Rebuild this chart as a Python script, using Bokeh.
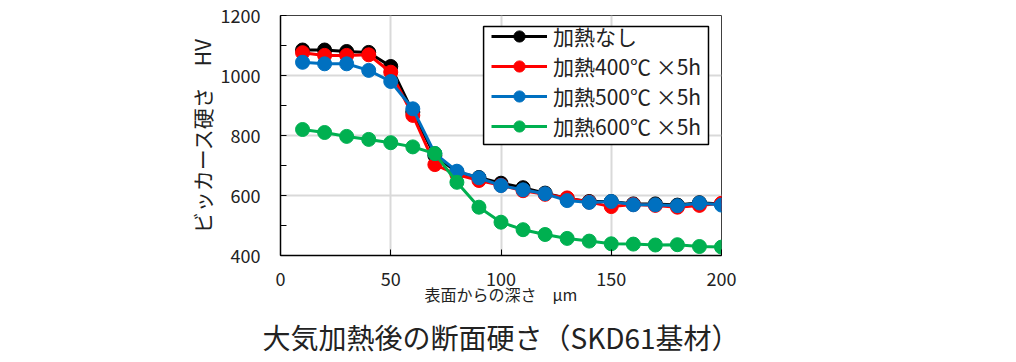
from bokeh.plotting import figure
from bokeh.models import FixedTicker, Range1d, Legend, LegendItem, Title, BoxAnnotation
from bokeh.embed import file_html
from bokeh.resources import INLINE

depth = [10, 20, 30, 40, 50, 60, 70, 80, 90, 100, 110, 120, 130, 140, 150, 160, 170, 180, 190, 200]
hv_none = [1085, 1085, 1080, 1077, 1030, 878, 733, 678, 660, 641, 626, 608, 590, 580, 580, 572, 572, 568, 576, 572]
hv_400 = [1076, 1067, 1067, 1069, 1011, 867, 703, 670, 650, 634, 616, 604, 592, 578, 563, 570, 567, 561, 567, 574]
hv_500 = [1044, 1039, 1039, 1017, 980, 889, 740, 681, 659, 633, 619, 606, 583, 577, 580, 569, 569, 566, 575, 568]
hv_600 = [820, 810, 797, 787, 776, 762, 740, 644, 561, 511, 486, 470, 457, 448, 439, 438, 435, 436, 430, 428]

series_names = ["加熱なし", "加熱400℃ ×5h", "加熱500℃ ×5h", "加熱600℃ ×5h"]
series_values = [hv_none, hv_400, hv_500, hv_600]
series_colors = ["#000000", "#FF0000", "#0070C0", "#00B050"]

x_ticks = [0, 50, 100, 150, 200]
y_ticks = [400, 600, 800, 1000, 1200]
y_minor = [500, 700, 900, 1100]

FONT = "Noto Sans CJK JP"

p = figure(width=1000, height=362, output_backend="svg", toolbar_location=None,
           x_range=Range1d(0, 200), y_range=Range1d(400, 1200),
           min_border_left=280, min_border_right=279, min_border_top=15,
           min_border_bottom=0)

p.background_fill_color = "white"
p.border_fill_color = "white"
p.outline_line_color = "#404040"
p.outline_line_width = 1

# axes
p.xaxis.ticker = FixedTicker(ticks=x_ticks)
p.yaxis.ticker = FixedTicker(ticks=y_ticks, minor_ticks=y_minor)
for ax in (p.xaxis[0], p.yaxis[0]):
    ax.axis_line_color = "#000000"
    ax.axis_line_width = 1.5
    ax.major_tick_in = 6
    ax.major_tick_out = 0
    ax.minor_tick_in = 6
    ax.minor_tick_out = 0
    ax.major_tick_line_color = "#000000"
    ax.minor_tick_line_color = "#000000"
    ax.major_label_text_font = FONT
    ax.major_label_text_font_size = "18px"
    ax.major_label_text_color = "#222222"
    ax.axis_label_text_font = FONT
    ax.axis_label_text_font_style = "normal"
    ax.axis_label_text_color = "#222222"

p.xaxis.major_label_standoff = 16
p.yaxis.major_label_standoff = 20
p.xaxis.axis_label = "表面からの深さ　μm"
p.xaxis.axis_label_text_font_size = "16px"
p.xaxis.axis_label_standoff = -7
p.yaxis.axis_label = "ビッカース硬さ　HV"
p.yaxis.axis_label_text_font_size = "21px"
p.yaxis.axis_label_standoff = 1

# grids
p.xgrid.ticker = FixedTicker(ticks=[50, 100, 150])
p.ygrid.ticker = FixedTicker(ticks=[600, 800, 1000])
p.grid.grid_line_color = "#D9D9D9"
p.grid.grid_line_width = 2

items = []
for name, vals, col in zip(series_names, series_values, series_colors):
    ln = p.line(depth, vals, line_color=col, line_width=3)
    sc = p.scatter(depth, vals, size=14, fill_color=col, line_color=col)
    items.append(LegendItem(label=name, renderers=[ln, sc]))

# legend frame (white box with black border)
legend_box = BoxAnnotation(left=92.1, right=194.1, top=1163.3, bottom=770.0,
                           fill_color="white", fill_alpha=1.0,
                           line_color="#000000", line_width=1.5, line_alpha=1.0)
p.add_layout(legend_box)

legend = Legend(items=items, location=(208, 111))
legend.label_text_font = FONT
legend.label_text_font_size = "21px"
legend.label_text_color = "#222222"
legend.glyph_width = 56
legend.glyph_height = 28
legend.label_height = 28
legend.label_standoff = 6
legend.spacing = 0
legend.padding = 3
legend.margin = 0
legend.border_line_alpha = 0
legend.background_fill_alpha = 0
p.add_layout(legend, "center")

title = Title(text="大気加熱後の断面硬さ（SKD61基材）", align="center",
              text_font=FONT, text_font_size="28px", text_font_style="normal",
              text_color="#222222", standoff=12)
p.add_layout(title, "below")

open("out.html", "w").write(file_html(p, INLINE))
